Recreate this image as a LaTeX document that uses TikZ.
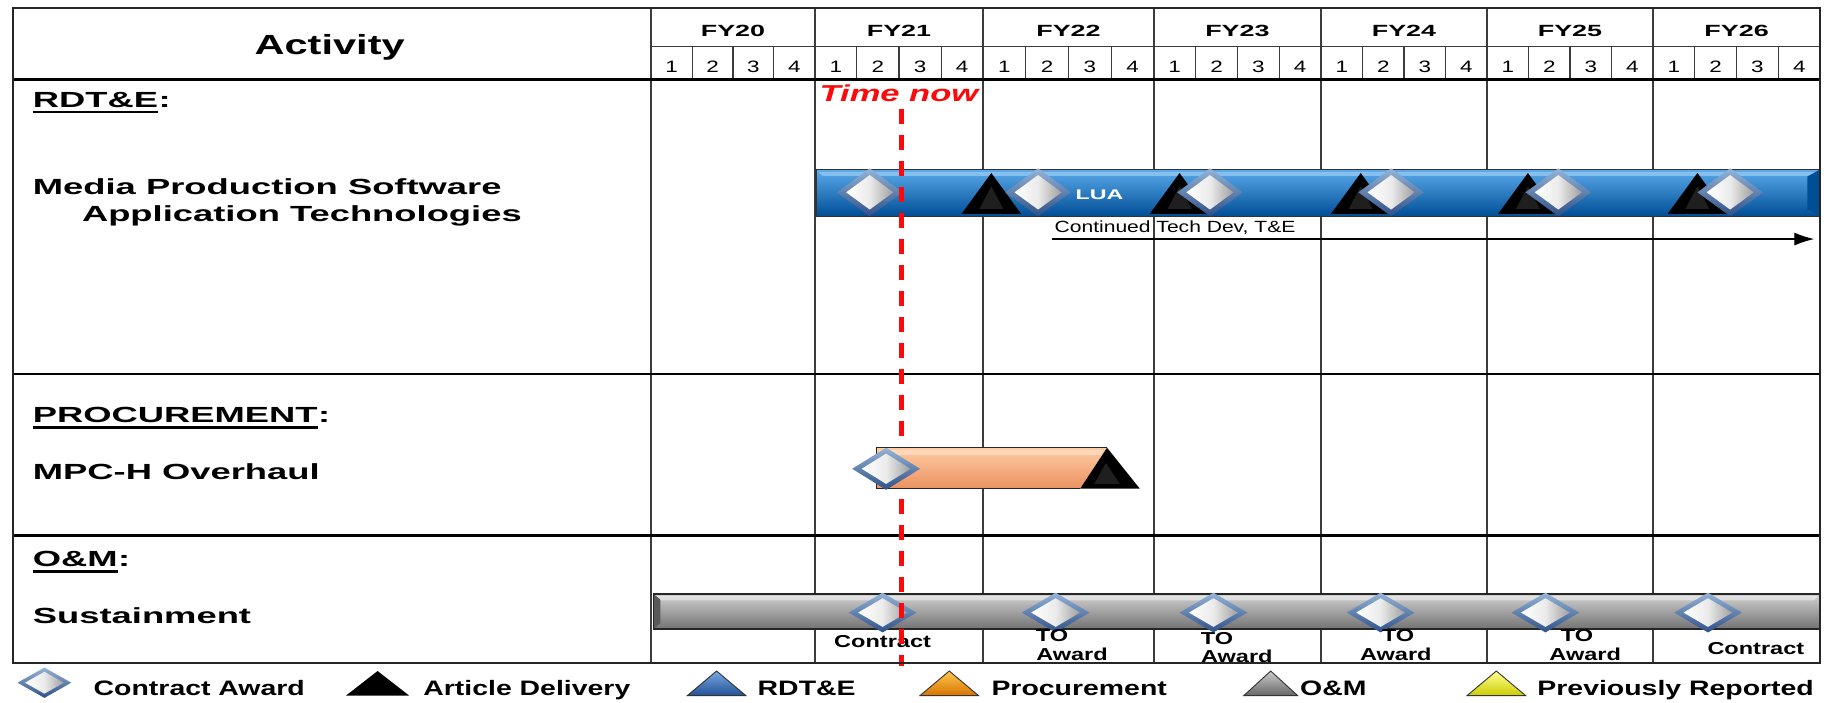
\documentclass[tikz,border=0pt]{standalone}
\usepackage{fontspec}
\setmainfont{Liberation Sans}[FakeStretch=1.36]
\newfontfamily\wideA{Liberation Sans}[FakeStretch=1.66]
\newfontfamily\wideB{Liberation Sans}[FakeStretch=1.5]
\newfontfamily\wideC{Liberation Sans}[FakeStretch=1.3]
\usetikzlibrary{arrows.meta}
\definecolor{tnred}{RGB}{250,10,10}
\definecolor{bblue}{RGB}{10,112,200}
\definecolor{bbluelt}{RGB}{90,170,235}
\definecolor{bbluedk}{RGB}{0,78,150}
\definecolor{orng}{RGB}{250,168,118}
\definecolor{orngl}{RGB}{255,205,165}
\definecolor{orngd}{RGB}{235,145,95}
\definecolor{dedgel}{RGB}{150,180,215}
\definecolor{dedged}{RGB}{45,80,135}
\definecolor{gridc}{RGB}{60,60,60}
\definecolor{lgblue1}{RGB}{120,170,225}
\definecolor{lgblue2}{RGB}{35,80,150}
\definecolor{lgor1}{RGB}{255,200,80}
\definecolor{lgor2}{RGB}{215,115,0}
\definecolor{lgye1}{RGB}{255,255,150}
\definecolor{lgye2}{RGB}{205,205,0}
\newcommand\fsz[1]{\fontsize{#1pt}{#1pt}\selectfont}
\tikzset{
  gridl/.style={draw=gridc, line width=1.4pt},
  gridq/.style={draw=gridc, line width=1.1pt},
  secl/.style={draw=black, line width=2.2pt},
  lbl/.style={anchor=base west, inner sep=0pt, font=\wideA\bfseries\fsz{21.9}},
  fylbl/.style={anchor=base, inner sep=0pt, font=\wideA\bfseries\fsz{16.2}},
  qlbl/.style={anchor=base, inner sep=0pt, font=\fsz{16.5}},
  cell/.style={anchor=base, inner sep=0pt, font=\bfseries\fsz{17.3}},
  leg/.style={anchor=base west, inner sep=0pt, font=\bfseries\fsz{20.9}},
  cad/.pic={
    \shade[top color=dedgel, bottom color=dedged] (-1,0) -- (0,-1) -- (1,0) -- (0,1) -- cycle;
    \shade[left color=white, right color=black!38, middle color=white!92!black] (-0.72,0) -- (0,-0.72) -- (0.72,0) -- (0,0.72) -- cycle;
  },
  art/.pic={
    \fill[black] (0,-1) -- (-1,1) -- (1,1) -- cycle;
    \fill[black!88] (0,-0.35) -- (-0.4,0.75) -- (0.4,0.75) -- cycle;
  },
}
\begin{document}
\begin{tikzpicture}[x=1.169pt, y=-1.169pt]
\useasboundingbox (0,0) rectangle (1568,601);
\fill[white] (0,0) rectangle (1568,601);

% ---- grid ----
\foreach \a/\b/\lab in {557/697/FY20, 697/841/FY21, 841/987/FY22, 987/1130/FY23, 1130/1272/FY24, 1272/1414/FY25, 1414/1557/FY26} {
  \draw[gridl] (\b,7) -- (\b,567);
  \node[fylbl] (\lab) at ({(\a+\b)/2},31) {\lab};
  \foreach \q in {1,2,3} { \draw[gridq] ({\a+\q*(\b-\a)/4},40) -- ({\a+\q*(\b-\a)/4},68); }
  \foreach \q in {1,2,3,4} { \node[qlbl] (\lab q\q) at ({\a+(\q-0.5)*(\b-\a)/4},62) {\q}; }
}
\draw[gridl] (557,7) -- (557,567);
\draw[gridl] (557,40) -- (1557,40);
\draw[secl] (11,68) -- (1557,68);
\draw[secl] (11,320) -- (1557,320);
\draw[secl] (11,458) -- (1557,458);

\node[anchor=base, inner sep=0pt, font=\wideB\bfseries\fsz{27.7}] (act) at (282,47) {Activity};

% ---- left labels ----
\node[lbl] (rdte) at (28,91.7) {RDT\&E};
\node[lbl] (rdtec) at (rdte.base east) {:};
\draw[line width=2.4pt] ([yshift=-4.6pt]rdte.base west) -- ([yshift=-4.6pt]rdte.base east);
\node[lbl] (mps) at (28,166) {Media Production Software};
\node[lbl] (apt) at (70,189.6) {Application Technologies};
\node[lbl] (proc) at (28,361.6) {PROCUREMENT};
\node[lbl] (procc) at (proc.base east) {:};
\draw[line width=2.4pt] ([yshift=-4.6pt]proc.base west) -- ([yshift=-4.6pt]proc.base east);
\node[lbl] (mpch) at (28,410) {MPC-H Overhaul};
\node[lbl] (om) at (28,485) {O\&M};
\node[lbl] (omc) at (om.base east) {:};
\draw[line width=2.4pt] ([yshift=-4.6pt]om.base west) -- ([yshift=-4.6pt]om.base east);
\node[lbl] (sus) at (28,533) {Sustainment};

% ---- RDT&E bar ----
\shade[top color=bbluelt, middle color=bblue, bottom color=bbluedk] (698,145) rectangle (1557,185);
\fill[bbluelt!60!white, opacity=0.7] (700,147) -- (1555,147) -- (1551,150.5) -- (704,150.5) -- cycle;
\fill[bbluedk] (1557,145) -- (1557,185) -- (1546,179) -- (1546,151) -- cycle;
\draw[black!80, line width=1.2pt] (698,145) rectangle (1557,185);
\foreach \t in {848,1009,1164,1307,1452} { \pic[xscale=25.5, yscale=17.5] at (\t,165.5) {art}; }
\foreach \d in {744,888,1035,1190,1333,1480} { \pic[xscale=28, yscale=20.5] at (\d,164.5) {cad}; }
\node[anchor=base, inner sep=0pt, text=white, font=\wideA\bfseries\fsz{14}] (lua) at (940.5,170.5) {LUA};

\node[anchor=base west, inner sep=0pt, font=\wideC\fsz{16.2}] (ctd) at (902,198.5) {Continued Tech Dev, T\&E};
\coordinate (ctds) at (900,204.5);
\coordinate (ctde) at (1552,204.5);
\draw[line width=1.3pt, -{Latex[length=20pt, width=13pt]}] (ctds) -- (ctde);

% ---- O&M bar ----
\shade[top color=black!18, middle color=black!31, bottom color=black!55] (559,508) rectangle (1557,538);
\fill[white, opacity=0.45] (561,510) -- (1555,510) -- (1552,513.5) -- (564,513.5) -- cycle;
\fill[black!65] (559,508) -- (565,513) -- (565,533) -- (559,538) -- cycle;
\draw[black!85, line width=1.3pt] (559,508) rectangle (1557,538);
\foreach \d in {755,903,1038,1181,1322,1461} { \pic[xscale=29, yscale=17] at (\d,524) {cad}; }

\node[cell] (c1) at (755,554) {Contract};
\node[cell] (to2) at (900,549) {TO};
\node[cell] (aw2) at (917,565) {Award};
\node[cell] (to3) at (1041,551) {TO};
\node[cell] (aw3) at (1058,567) {Award};
\node[cell] (to4) at (1196,549) {TO};
\node[cell] (aw4) at (1194,565) {Award};
\node[cell] (to5) at (1349,549) {TO};
\node[cell] (aw5) at (1356,565) {Award};
\node[cell] (c6) at (1502,560) {Contract};

% ---- time now ----
\coordinate (tn1) at (771,93);
\coordinate (tn2) at (771,570);
\draw[tnred, line width=5pt, dash pattern=on 15pt off 11pt] (tn1) -- (tn2);
\node[anchor=base, inner sep=0pt, text=tnred, font=\wideB\bfseries\itshape\fsz{23}] (tnow) at (769,87) {Time now};

% ---- procurement bar ----
\shade[top color=orngl, middle color=orng, bottom color=orngd] (750,383) -- (947,383) -- (924,418) -- (750,418) -- cycle;
\fill[orngl!70!white, opacity=0.8] (752,385) -- (944,385) -- (941.5,389) -- (752,389) -- cycle;
\draw[black!85, line width=1.2pt] (924,418) -- (750,418) -- (750,383) -- (947,383);
\fill[black] (947,383) -- (924,418) -- (975,418) -- cycle;
\fill[black!88] (946,396) -- (936,414) -- (958,414) -- cycle;
\pic[xscale=29, yscale=18] at (758,401) {cad};

% ---- outer border ----
\draw[draw=black!85, line width=2.4pt] (11,7) rectangle (1557,567);

% ---- legend ----
\pic[xscale=23, yscale=13] at (38,584) {cad};
\node[leg] (lg1) at (80,595) {Contract Award};
\fill[black] (323,574) -- (296,595) -- (350,595) -- cycle;
\node[leg] (lg2) at (362,595) {Article Delivery};
\shadedraw[top color=lgblue1, bottom color=lgblue2, draw=black!80, line width=0.9pt] (613,574) -- (588,595) -- (638,595) -- cycle;
\node[leg] (lg3) at (648,595) {RDT\&E};
\shadedraw[top color=lgor1, bottom color=lgor2, draw=black!80, line width=0.9pt] (812,574) -- (787,595) -- (837,595) -- cycle;
\node[leg] (lg4) at (848,595) {Procurement};
\shadedraw[top color=black!20, bottom color=black!60, draw=black!80, line width=0.9pt] (1087,574) -- (1064,595) -- (1110,595) -- cycle;
\node[leg] (lg5) at (1112,595) {O\&M};
\shadedraw[top color=lgye1, bottom color=lgye2, draw=black!80, line width=0.9pt] (1280,574) -- (1255,595) -- (1305,595) -- cycle;
\node[leg] (lg6) at (1315,595) {Previously Reported};
\end{tikzpicture}
\end{document}
